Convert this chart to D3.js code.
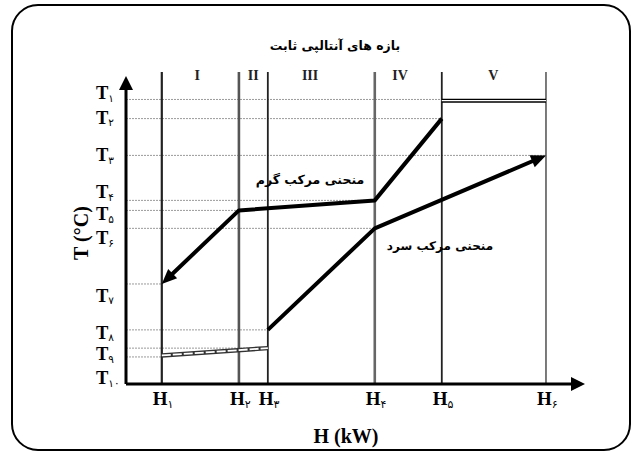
<!DOCTYPE html>
<html><head><meta charset="utf-8">
<script src="https://cdn.jsdelivr.net/npm/d3@7"></script>
<style>body{margin:0;background:#fff}svg{display:block}</style>
</head><body>
<svg id="c" width="632" height="452"></svg>
<script>
// ---- data ----
const hLabels = ["۱","۲","۳","۴","۵","۶"];
const hValues = [7.8, 24.6, 30.9, 54.2, 68.8, 91.5];
const tLabels = ["۱","۲","۳","۴","۵","۶","۷","۸","۹","۱۰"];
const tValues = [93.6, 87.3, 75.2, 60.4, 57.1, 51.2, 32.9, 17.8, 11.8, 0];
const tGridEndH = [68.8, 68.8, 91.5, 54.2, 24.6, 54.2, 7.8, 30.9, 30.9];
const extraGridT = [8.9];
const extraGridEndH = [7.8];
const hotH = [68.8, 54.2, 24.6, 7.8];
const hotT = [87.3, 60.4, 57.1, 32.9];
const coldH = [30.9, 54.2, 91.5];
const coldT = [17.8, 51.2, 75.2];
const lowH = [7.8, 30.9];
const lowT = [9.4, 11.8];
const topH = [68.8, 91.5];
const topT = [93.2, 93.2];
const regionNames = ["I","II","III","IV","V"];
const regionPos = [15.5, 27.7, 40.1, 59.7, 80.0];
const regionTop = 102.6;
const titleText = "بازه های آنتالپی ثابت";
const hotLabel = "منحنی مرکب گرم";
const coldLabel = "منحنی مرکب سرد";

// ---- drawing ----
const svg = d3.select("#c");
const x = d3.scaleLinear([0, 100], [126, 585]);
const y = d3.scaleLinear([0, 100], [384, 80]);
const serif = "'Liberation Serif','Times New Roman',serif";
const arab = "'DejaVu Sans',sans-serif";

// frame
svg.append("rect").attr("x", 12).attr("y", 5).attr("width", 618).attr("height", 445)
  .attr("rx", 26).attr("ry", 26).attr("fill", "#fff").attr("stroke", "#000").attr("stroke-width", 2);

// dotted horizontal guides
const guides = tGridEndH.map((h, i) => ({t: tValues[i], h}))
  .concat(extraGridT.map((t, i) => ({t, h: extraGridEndH[i]})));
svg.append("g").selectAll("line").data(guides).join("line")
  .attr("x1", x(0)).attr("x2", d => x(d.h))
  .attr("y1", d => y(d.t)).attr("y2", d => y(d.t))
  .attr("stroke", "#9a9a9a").attr("stroke-width", 1).attr("stroke-dasharray", "2,1");

// vertical region lines
const vStyles = [{w:2.2,c:"#222"},{w:2.6,c:"#555"},{w:1.8,c:"#222"},{w:2.6,c:"#666"},{w:1.8,c:"#222"},{w:1.3,c:"#333"}];
svg.append("g").selectAll("line").data(hValues).join("line")
  .attr("x1", d => x(d)).attr("x2", d => x(d))
  .attr("y1", y(regionTop)).attr("y2", y(0))
  .attr("stroke", (d, i) => vStyles[i].c).attr("stroke-width", (d, i) => vStyles[i].w);

// region labels
svg.append("g").selectAll("text").data(regionNames).join("text")
  .attr("x", (d, i) => x(regionPos[i])).attr("y", 80)
  .attr("text-anchor", "middle").attr("font-family", serif).attr("font-weight", "bold")
  .attr("font-size", 14).attr("fill", "#222").text(d => d);

// title
svg.append("text").attr("x", 335).attr("y", 50).attr("text-anchor", "middle")
  .attr("font-family", arab).attr("font-weight", "bold").attr("font-size", 12.5)
  .attr("direction", "rtl").text(titleText);

// top double line (T1, H5-H6)
const line = d3.line().x(d => x(d[0])).y(d => y(d[1]));
const topPts = topH.map((h, i) => [h, topT[i]]);
svg.append("path").attr("d", line(topPts)).attr("stroke", "#000").attr("stroke-width", 4).attr("fill", "none");
svg.append("path").attr("d", line(topPts)).attr("stroke", "#fff").attr("stroke-width", 1.4).attr("fill", "none");

// low double line
const lowPts = lowH.map((h, i) => [h, lowT[i]]);
svg.append("path").attr("d", line(lowPts)).attr("stroke", "#333").attr("stroke-width", 4.5).attr("fill", "none");
svg.append("path").attr("d", line(lowPts)).attr("stroke", "#fff").attr("stroke-width", 1.8)
  .attr("stroke-dasharray", "9,2").attr("fill", "none");

// arrowed curve helper
function arrowCurve(pts, width, len, half) {
  const px = pts.map(p => [x(p[0]), y(p[1])]);
  const n = px.length;
  const [ax, ay] = px[n - 2], [bx, by] = px[n - 1];
  const dx = bx - ax, dy = by - ay, L = Math.hypot(dx, dy);
  const ux = dx / L, uy = dy / L;
  const body = px.slice(0, n - 1).concat([[bx - ux * len * 0.7, by - uy * len * 0.7]]);
  svg.append("path").attr("d", d3.line()(body)).attr("fill", "none")
    .attr("stroke", "#000").attr("stroke-width", width).attr("stroke-linejoin", "round");
  const baseX = bx - ux * len, baseY = by - uy * len;
  svg.append("path").attr("d",
    `M${bx},${by}L${baseX - uy * half},${baseY + ux * half}L${baseX + uy * half},${baseY - ux * half}Z`)
    .attr("fill", "#000");
}
arrowCurve(hotH.map((h, i) => [h, hotT[i]]), 4, 15, 6.5);
arrowCurve(coldH.map((h, i) => [h, coldT[i]]), 4, 15, 6.5);

// axes
arrowCurve([[0, 0], [0, 101.3]], 3, 14, 7);
arrowCurve([[0, 0], [100, 0]], 3, 14, 7);

// y tick labels
const yOff = [0, 5, 6, -2, 10, 16, 18, 9, 12, 0];
const yl = svg.append("g").selectAll("text").data(tLabels).join("text")
  .attr("x", 96).attr("y", (d, i) => y(tValues[i]) + yOff[i])
  .attr("font-family", serif).attr("font-weight", "bold").attr("font-size", 18.5);
yl.append("tspan").text("T");
yl.append("tspan").attr("font-family", arab).attr("font-weight", "normal").attr("font-size", 10.5)
  .attr("dy", 2.5).text(d => d);

// x tick labels
const xl = svg.append("g").selectAll("text").data(hLabels).join("text")
  .attr("x", (d, i) => x(hValues[i]) - 9).attr("y", 405)
  .attr("font-family", serif).attr("font-weight", "bold").attr("font-size", 19);
xl.append("tspan").text("H");
xl.append("tspan").attr("font-family", arab).attr("font-weight", "normal").attr("font-size", 11)
  .attr("dy", 3).text(d => d);

// axis titles
svg.append("text").attr("x", 346).attr("y", 443).attr("text-anchor", "middle")
  .attr("font-family", serif).attr("font-weight", "bold").attr("font-size", 20).text("H (kW)");
svg.append("text").attr("transform", "translate(88,233) rotate(-90)").attr("text-anchor", "middle")
  .attr("font-family", serif).attr("font-weight", "bold").attr("font-size", 20).text("T (°C)");

// curve labels
svg.append("text").attr("x", 310).attr("y", 184).attr("text-anchor", "middle")
  .attr("font-family", arab).attr("font-weight", "bold").attr("font-size", 12.5)
  .attr("direction", "rtl").text(hotLabel);
svg.append("text").attr("x", 440).attr("y", 250).attr("text-anchor", "middle")
  .attr("font-family", arab).attr("font-weight", "bold").attr("font-size", 12)
  .attr("direction", "rtl").text(coldLabel);
</script>
</body></html>
